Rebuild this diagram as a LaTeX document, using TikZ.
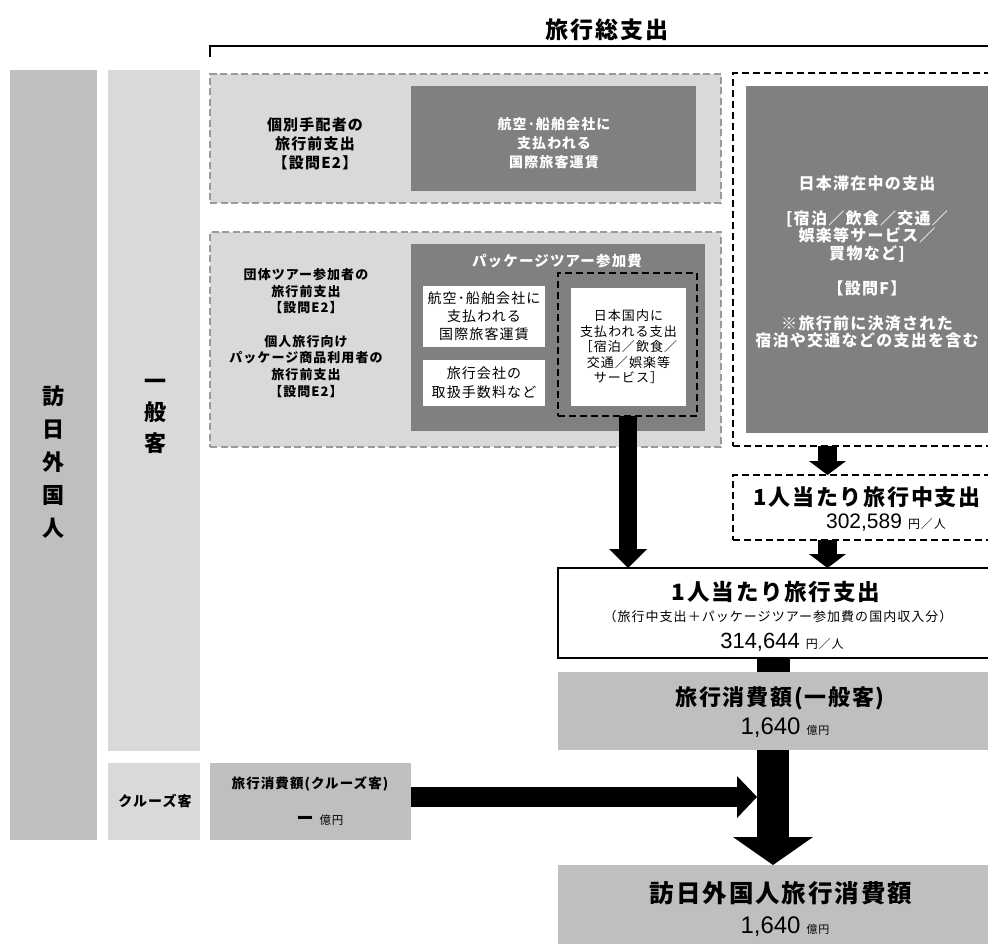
\documentclass[tikz,border=0pt]{standalone}
\usepackage{fontspec}
\setmainfont{Noto Sans CJK JP}[LetterSpace=8]
\newfontfamily\arialf{Liberation Sans}
\usetikzlibrary{arrows.meta}
\newcommand\myfs[2]{\fontsize{#1}{#2}\selectfont}
\definecolor{lg}{HTML}{D9D9D9}
\definecolor{dg}{HTML}{808080}
\definecolor{mg}{HTML}{BFBFBF}
\definecolor{bd}{HTML}{9A9A9A}
\tikzset{
  bx/.style={anchor=north west, inner sep=0pt, outer sep=0pt},
  lightdash/.style={bx, fill=lg, draw=bd, line width=1.3pt, dash pattern=on 7pt off 3.5pt},
  blackdash/.style={bx, draw=black, line width=1.4pt, dash pattern=on 7pt off 4pt},
  darkfill/.style={bx, fill=dg},
  whitefill/.style={bx, fill=white},
  midfill/.style={bx, fill=mg},
  lightfill/.style={bx, fill=lg},
  solidbox/.style={bx, fill=white, draw=black, line width=1.6pt},
  txt/.style={align=center, inner sep=0pt},
  arrS/.style={line width=18pt, -{Triangle[width=38pt,length=19pt,line width=0pt]}},
  arrM/.style={line width=19pt, -{Triangle[width=37pt,length=14pt,line width=0pt]}},
  arrL/.style={line width=32pt, -{Triangle[width=80pt,length=28pt,line width=0pt]}},
  arrH/.style={line width=20pt, -{Triangle[width=42pt,length=20pt,line width=0pt]}},
  shaft/.style={line width=33pt}
}
\begin{document}
\begin{tikzpicture}[x=1pt,y=-1pt]
\clip (0,0) rectangle (988,944);
\fill[white] (0,0) rectangle (988,944);

% title and bracket
\node[txt, font=\bfseries\myfs{23}{26}] (title) at (607,30) {旅行総支出};
\coordinate (brA) at (210,57);
\coordinate (brB) at (210,46);
\coordinate (brC) at (1000,46);
\draw[line width=1.6pt] (brA) -- (brB) -- (brC);

% left columns
\node[midfill, minimum width=87pt, minimum height=770pt] (col1) at (10,70) {};
\node[txt, font=\bfseries\myfs{22}{33}] (col1t) at (53,462) {訪\\日\\外\\国\\人};
\node[lightfill, minimum width=92pt, minimum height=681pt] (col2) at (108,70) {};
\node[txt, font=\bfseries\myfs{22}{31}] (col2t) at (155,416) {一\\般\\客};
\node[lightfill, minimum width=92pt, minimum height=77pt] (crl) at (108,763) {};
\node[txt, font=\bfseries\myfs{14}{16}] (crlt) at (155,801) {クルーズ客};
\node[midfill, minimum width=201pt, minimum height=77pt] (cru) at (210,763) {};
\node[txt, font=\bfseries\myfs{13.5}{16}] (crut) at (310,784) {旅行消費額(クルーズ客)};
\node[txt] (cruv) at (320,820) {\bfseries\myfs{17}{18}ー\hspace{6pt}\mdseries\myfs{11.5}{14}億円};

% top-left pre-travel box
\node[lightdash, minimum width=511pt, minimum height=129pt] (pre1) at (210,74) {};
\node[darkfill, minimum width=285pt, minimum height=105pt] (air1) at (411,86) {};
\node[txt, font=\bfseries\myfs{15}{19}] (pre1t) at (315,144) {個別手配者の\\旅行前支出\\【設問E2】};
\node[txt, text=white, font=\bfseries\myfs{14}{19}] (air1t) at (554,143) {航空･船舶会社に\\支払われる\\国際旅客運賃};

% group tour box
\node[lightdash, minimum width=511pt, minimum height=215pt] (pre2) at (210,232) {};
\node[txt, font=\bfseries\myfs{13}{16.7}] (pre2t) at (306,333) {団体ツアー参加者の\\旅行前支出\\【設問E2】\\[16.7pt]個人旅行向け\\パッケージ商品利用者の\\旅行前支出\\【設問E2】};
\node[darkfill, minimum width=294pt, minimum height=187pt] (pkg) at (411,244) {};
\node[txt, text=white, font=\bfseries\myfs{14.5}{16}] (pkgt) at (557,261) {パッケージツアー参加費};
\node[whitefill, minimum width=122pt, minimum height=61pt] (w1) at (423,286) {};
\node[txt, font=\myfs{14}{18}] (w1t) at (w1.center) {航空･船舶会社に\\支払われる\\国際旅客運賃};
\node[whitefill, minimum width=122pt, minimum height=46pt] (w2) at (423,360) {};
\node[txt, font=\myfs{14}{19}] (w2t) at (w2.center) {旅行会社の\\取扱手数料など};
\node[blackdash, minimum width=139pt, minimum height=143pt] (pin) at (558,273) {};
\node[whitefill, minimum width=115pt, minimum height=118pt] (w3) at (571,288) {};
\node[txt, font=\myfs{13}{15.5}] (w3t) at (w3.center) {日本国内に\\支払われる支出\\［宿泊／飲食／\\交通／娯楽等\\サービス］};

% right box: stay expenses
\node[blackdash, fill=white, minimum width=267pt, minimum height=373pt] (rbox) at (733,73) {};
\node[darkfill, minimum width=254pt, minimum height=347pt] (rin) at (746,86) {};
\node[txt, text=white, font=\bfseries\myfs{16}{17.5}] (rint) at (867,262) {日本滞在中の支出\\[17.5pt][宿泊／飲食／交通／\\娯楽等サービス／\\買物など]\\[17.5pt]【設問F】\\[17.5pt]※旅行前に決済された\\宿泊や交通などの支出を含む};

% per-person during trip
\node[blackdash, fill=white, minimum width=267pt, minimum height=65pt] (mid) at (733,475) {};
\node[txt, font=\bfseries\myfs{22}{24}] (midt1) at (867,497) {1人当たり旅行中支出};
\node[txt] (midt2) at (886,523) {\arialf\myfs{21}{24}302,589\hspace{6pt}\rmfamily\myfs{12}{14}円／人};

% per-person total
\node[solidbox, minimum width=442pt, minimum height=90pt] (per) at (558,568) {};
\node[txt, font=\bfseries\myfs{22.5}{24}] (pert1) at (776,592) {1人当たり旅行支出};
\node[txt, font=\myfs{13}{14}] (pert2) at (778,617) {（旅行中支出＋パッケージツアー参加費の国内収入分）};
\node[txt] (pert3) at (782,642) {\arialf\myfs{22}{24}314,644\hspace{6pt}\rmfamily\myfs{12}{14}円／人};

% consumption (general)
\node[midfill, minimum width=442pt, minimum height=78pt] (cons) at (558,672) {};
\node[txt, font=\bfseries\myfs{22}{24}] (const1) at (780,698) {旅行消費額(一般客)};
\node[txt] (const2) at (785,728) {\arialf\myfs{24}{26}1,640\hspace{6pt}\rmfamily\myfs{11}{14}億円};

% total
\node[midfill, minimum width=442pt, minimum height=90pt] (tot) at (558,865) {};
\node[txt, font=\bfseries\myfs{24.5}{26}] (tott1) at (781,893) {訪日外国人旅行消費額};
\node[txt] (tott2) at (785,927) {\arialf\myfs{24}{26}1,640\hspace{6pt}\rmfamily\myfs{11}{14}億円};

% connectors
\coordinate (ax1) at (628,0);
\coordinate (ax2) at (827.5,0);
\coordinate (ax3) at (773,0);
\coordinate (hj) at (757,797);
\draw[arrS] (ax1 |- pin.south) -- (ax1 |- per.north);
\draw[arrM] (ax2 |- rbox.south) -- (ax2 |- mid.north);
\draw[arrM] (ax2 |- mid.south) -- (ax2 |- per.north);
\draw[shaft] (ax3 |- per.south) -- (ax3 |- cons.north);
\draw[arrL] (ax3 |- cons.south) -- (ax3 |- tot.north);
\draw[arrH] (cru.east |- hj) -- (hj);
\end{tikzpicture}
\end{document}
